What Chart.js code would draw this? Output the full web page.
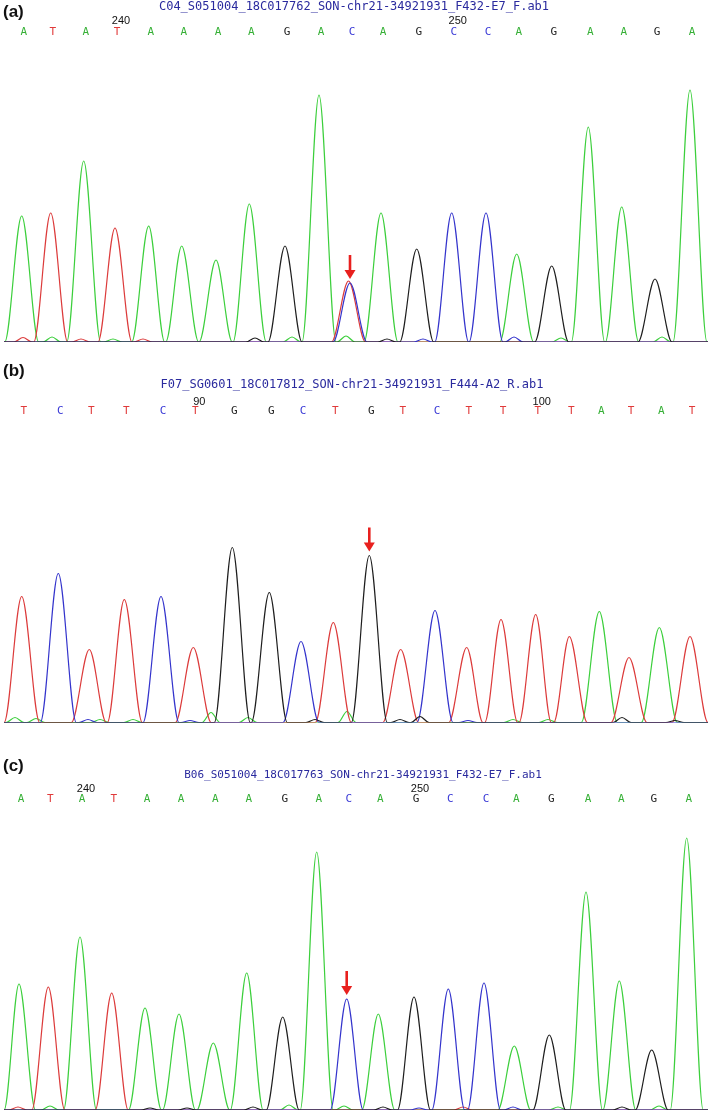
<!DOCTYPE html>
<html>
<head>
<meta charset="utf-8">
<script src="https://cdn.jsdelivr.net/npm/chart.js@4.4.0/dist/chart.umd.min.js"></script>
<style>
  html, body { margin: 0; padding: 0; background: #fff; }
  body { width: 709px; height: 1114px; position: relative; overflow: hidden; }
  canvas { position: absolute; left: 0; }
</style>
</head>
<body>
<canvas id="chartA" width="709" height="352" style="top:0px"></canvas>
<canvas id="chartB" width="709" height="372" style="top:356px"></canvas>
<canvas id="chartC" width="709" height="386" style="top:728px"></canvas>
<script>
// (a) base calls, peak positions (scan axis) and peak heights (signal)
const callsA = ['A','T','A','T','A','A','A','A','G','A','C','A','G','C','C','A','G','A','A','G','A'];
const posA = [21.7, 50.7, 83.7, 115, 148.7, 181.7, 216, 249.3, 285, 319, 350, 381, 416.7, 451.7, 486, 516.7, 551.7, 588.3, 621.7, 655, 690];
const heightA = [126, 129, 181, 114, 116, 96, 82, 138, 96, 247, 59, 129, 93, 129, 129, 88, 76, 215, 135, 63, 252];
// secondary and background peaks: [position, base, height]
const minorA = [[348.5,'T',61], [23,'T',4.5], [52,'A',5], [81,'T',3], [113,'A',3], [143,'T',3], [255,'G',4],
  [292,'A',5], [346,'A',6], [387,'G',3], [423,'C',3], [514,'C',5], [561,'A',4], [662,'A',5]];
const numIdxA = [3, 13];
const numTextA = ['240', '250'];

// (b)
const callsB = ['T','C','T','T','C','T','G','G','C','T','G','T','C','T','T','T','T','A','T','A','T'];
const posB = [21.7, 58.3, 89.3, 124.3, 161, 193.3, 232.3, 269.3, 301, 333.3, 369.3, 400.7, 435, 466.7, 501, 535.7, 569.3, 599.3, 629, 659.3, 690];
const heightB = [126, 149, 73, 123, 126, 75, 175, 130, 81, 100, 167, 73, 112, 75, 103, 108, 86, 111, 65, 95, 86];
const minorB = [[15,'A',5], [36,'A',4], [88,'C',3], [100,'A',3], [133,'A',3], [190,'C',2], [211,'A',10], [248,'A',5],
  [315,'G',3], [347,'A',11], [400,'G',3], [420,'G',6], [468,'C',2], [513,'A',3], [548,'A',3], [622,'G',5], [675,'G',2]];
const numIdxB = [5, 15];
const numTextB = ['90', '100'];

// (c)
const callsC = ['A','T','A','T','A','A','A','A','G','A','C','A','G','C','C','A','G','A','A','G','A'];
const posC = [19, 48.3, 80, 111.7, 145, 179, 213.3, 246.7, 282.7, 316.7, 346.7, 378.3, 414, 448.3, 484, 514.3, 549.3, 586, 619.3, 651.7, 686.7];
const heightC = [126, 123, 173, 117, 102, 96, 67, 137, 93, 258, 111, 96, 113, 121, 127, 64, 75, 218, 129, 60, 272];
const minorC = [[18,'T',3], [50,'A',4], [150,'G',2], [187,'G',2], [253,'G',3], [289,'A',5], [344,'A',4], [383,'G',3],
  [419,'C',2], [463,'T',3], [513,'C',3], [558,'A',3], [622,'G',3], [659,'A',4]];
const numIdxC = [2, 12];
const numTextC = ['240', '250'];

const traceColor = { A: '#3ccf3c', C: '#3434cc', G: '#1e1e1e', T: '#dc3b3b' };
const letterColor = { A: '#36b036', C: '#3a3ad6', G: '#222222', T: '#e03a3a' };
const minorHalf = 9;

function addPeak(list, x, h, half) {
  list.push({ x: x - half, y: 0 }, { x: x, y: h }, { x: x + half, y: 0 });
}

function buildDatasets(calls, pos, heights, minor, half) {
  const pts = { A: [], C: [], G: [], T: [] };
  calls.forEach((b, i) => addPeak(pts[b], pos[i], heights[i], half));
  minor.forEach(([x, b, h]) => addPeak(pts[b], x, h, h > 20 ? half : minorHalf));
  return ['G', 'C', 'T', 'A'].map(b => {
    const line = [{ x: 4, y: 0 }, ...pts[b].sort((p, q) => p.x - q.x), { x: 708, y: 0 }];
    // keep x strictly increasing for the monotone spline
    for (let i = 1; i < line.length; i++) {
      if (line[i].x <= line[i - 1].x) line[i].x = line[i - 1].x + 0.05;
    }
    return {
      data: line,
      borderColor: traceColor[b],
      borderWidth: 1.2,
      pointRadius: 0,
      cubicInterpolationMode: 'monotone',
      fill: false
    };
  });
}

// header text, base calls and the red arrow
function makeHeader(p) {
  return {
    id: 'header',
    afterDraw(chart) {
      const ctx = chart.ctx, xs = chart.scales.x, ys = chart.scales.y;
      ctx.save();
      ctx.textBaseline = 'middle';

      ctx.font = 'bold 17px "Liberation Sans", Arial, sans-serif';
      ctx.fillStyle = '#111';
      ctx.textAlign = 'left';
      ctx.fillText(p.label, 3, p.labelY);

      ctx.font = p.titleSize + 'px "DejaVu Sans Mono", monospace';
      ctx.fillStyle = '#2a2a9e';
      ctx.textAlign = 'center';
      ctx.fillText(p.title, p.titleX, p.titleY);

      ctx.font = '11px "DejaVu Sans Mono", monospace';
      p.calls.forEach((b, i) => {
        ctx.fillStyle = letterColor[b];
        ctx.fillText(b, xs.getPixelForValue(p.pos[i]) + 2, p.callY);
      });

      ctx.font = '11px "Liberation Sans", Arial, sans-serif';
      ctx.fillStyle = '#111';
      p.numIdx.forEach((idx, k) => {
        ctx.fillText(p.numText[k], xs.getPixelForValue(p.pos[idx]) + 6, p.numY);
      });

      // arrow above the variant peak
      const ax = xs.getPixelForValue(p.pos[p.arrow]);
      const tip = ys.getPixelForValue(p.heights[p.arrow]) - 4;
      ctx.strokeStyle = '#e8201e';
      ctx.fillStyle = '#e8201e';
      ctx.lineWidth = 2.6;
      ctx.beginPath();
      ctx.moveTo(ax, tip - 24);
      ctx.lineTo(ax, tip - 7);
      ctx.stroke();
      ctx.beginPath();
      ctx.moveTo(ax - 5.5, tip - 9);
      ctx.lineTo(ax + 5.5, tip - 9);
      ctx.lineTo(ax, tip);
      ctx.closePath();
      ctx.fill();
      ctx.restore();
    }
  };
}

function drawPanel(id, p) {
  new Chart(document.getElementById(id).getContext('2d'), {
    type: 'line',
    data: { datasets: buildDatasets(p.calls, p.pos, p.heights, p.minor, p.half) },
    options: {
      responsive: false,
      animation: false,
      events: [],
      layout: { padding: { top: p.padTop, bottom: p.padBottom, left: 0, right: 0 } },
      scales: {
        x: { type: 'linear', min: 0, max: 709, display: false },
        y: { min: 0, max: p.yMax, display: false }
      },
      plugins: { legend: { display: false }, tooltip: { enabled: false } }
    },
    plugins: [makeHeader(p)]
  });
}

drawPanel('chartA', {
  calls: callsA, pos: posA, heights: heightA, minor: minorA, numIdx: numIdxA, numText: numTextA,
  half: 17, arrow: 10, padTop: 60, padBottom: 10, yMax: 282,
  label: '(a)', labelY: 12, title: 'C04_S051004_18C017762_SON-chr21-34921931_F432-E7_F.ab1',
  titleSize: 12, titleX: 354, titleY: 7, numY: 21, callY: 32
});

drawPanel('chartB', {
  calls: callsB, pos: posB, heights: heightB, minor: minorB, numIdx: numIdxB, numText: numTextB,
  half: 18, arrow: 10, padTop: 150, padBottom: 5.5, yMax: 216.5,
  label: '(b)', labelY: 15.5, title: 'F07_SG0601_18C017812_SON-chr21-34921931_F444-A2_R.ab1',
  titleSize: 12, titleX: 352, titleY: 29, numY: 45.5, callY: 55.5
});

drawPanel('chartC', {
  calls: callsC, pos: posC, heights: heightC, minor: minorC, numIdx: numIdxC, numText: numTextC,
  half: 16.5, arrow: 10, padTop: 80, padBottom: 4, yMax: 302,
  label: '(c)', labelY: 38, title: 'B06_S051004_18C017763_SON-chr21-34921931_F432-E7_F.ab1',
  titleSize: 11, titleX: 363, titleY: 47, numY: 61, callY: 71
});
</script>
</body>
</html>
